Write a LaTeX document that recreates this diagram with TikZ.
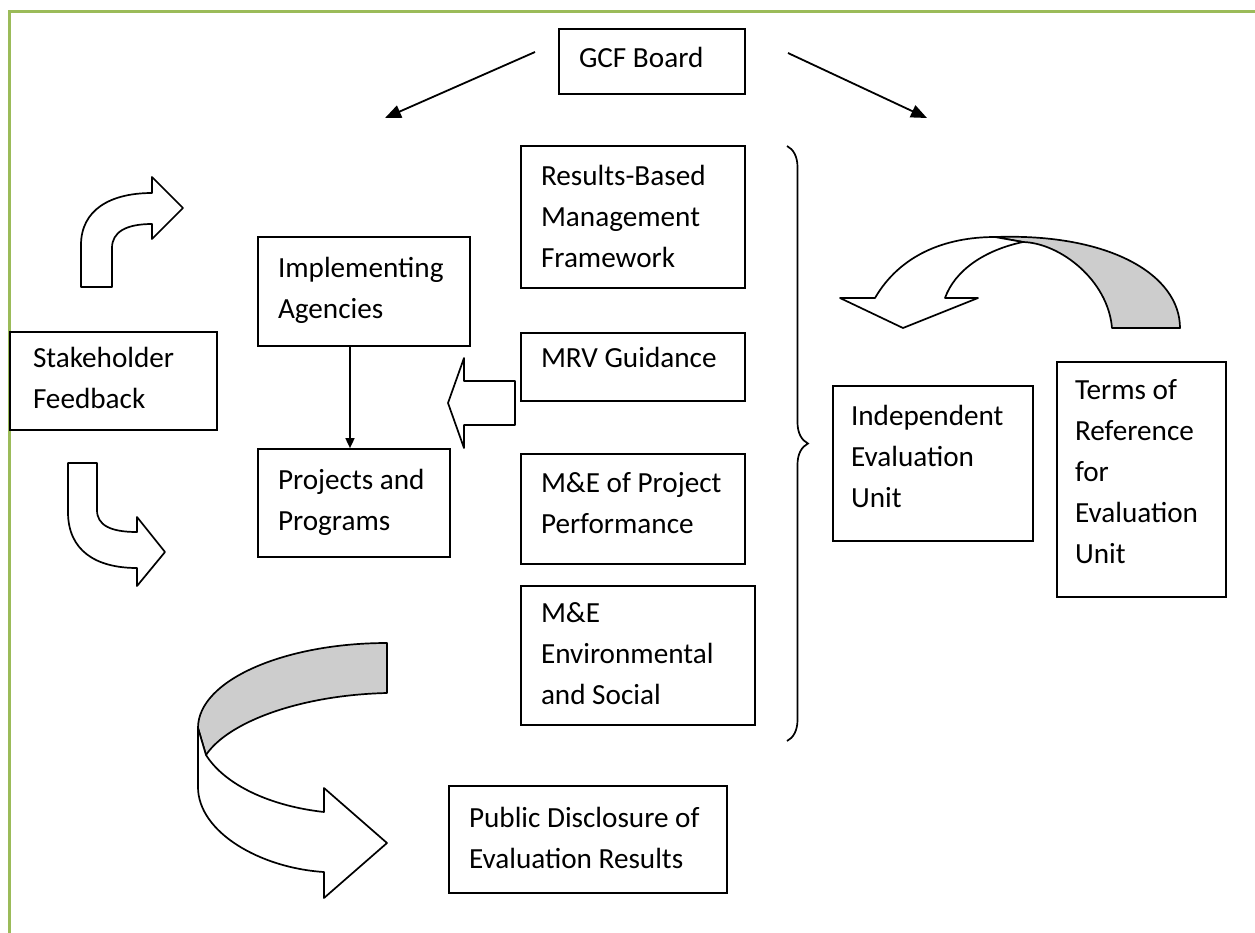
\documentclass[tikz,border=0pt]{standalone}
\usepackage{fontspec}
\setmainfont{Carlito}
\usetikzlibrary{arrows.meta,fit,decorations.pathreplacing}
\definecolor{frameline}{HTML}{9BBB59}
\definecolor{bandgray}{HTML}{CDCDCD}
\newcommand\boxtext[1]{\begin{tabular}[t]{@{}l@{}}#1\end{tabular}}
\begin{document}
\begin{tikzpicture}[x=0.5pt,y=-0.5pt,
  font=\fontsize{14.6pt}{20.5pt}\selectfont,
  box/.style={draw, line width=0.85pt, inner sep=0pt},
  txt/.style={anchor=base west, inner sep=0pt, outer sep=0pt},
  link/.style={line width=0.9pt, -{Triangle[length=8pt,width=6.5pt]}},
  shortlink/.style={line width=0.8pt, -{Triangle[length=5pt,width=4.5pt]}},
  blockarrow/.style={draw, line width=0.85pt, fill=white, line join=round},
  backband/.style={draw, line width=0.85pt, fill=bandgray, line join=round}]
\useasboundingbox (0,0) rectangle (1255,933);

% page frame
\draw[frameline, line width=1.2pt] (9.5,933) -- (9.5,11.5) -- (1255,11.5);

% boxes
\node[box, fit={(559,29) (745,94)}] (gcf) {};
\node[txt] (gcf-t) at (579,67) {GCF Board};

\node[box, fit={(521,146) (745,288)}] (rbm) {};
\node[txt] (rbm-t) at (541,185) {\boxtext{Results-Based\\Management\\Framework}};

\node[box, fit={(258,237) (470,346)}] (impl) {};
\node[txt] (impl-t) at (278,277) {\boxtext{Implementing\\Agencies}};

\node[box, fit={(10,332) (217,430)}] (stake) {};
\node[txt] (stake-t) at (33,367) {\boxtext{Stakeholder\\Feedback}};

\node[box, fit={(521,333) (745,401)}] (mrv) {};
\node[txt] (mrv-t) at (541,367) {MRV Guidance};

\node[box, fit={(258,449) (450,557)}] (proj) {};
\node[txt] (proj-t) at (278,489) {\boxtext{Projects and\\Programs}};

\node[box, fit={(521,454) (745,564)}] (mep) {};
\node[txt] (mep-t) at (541,492) {\boxtext{M\&E of Project\\Performance}};

\node[box, fit={(521,586) (755,725)}] (mee) {};
\node[txt] (mee-t) at (541,622) {\boxtext{M\&E\\Environmental\\and Social}};

\node[box, fit={(833,386) (1033,541)}] (ieu) {};
\node[txt] (ieu-t) at (851,425) {\boxtext{Independent\\Evaluation\\Unit}};

\node[box, fit={(1057,362) (1226,597)}] (tor) {};
\node[txt] (tor-t) at (1075,399) {\boxtext{Terms of\\Reference\\for\\Evaluation\\Unit}};

\node[box, fit={(449,786) (727,893)}] (pub) {};
\node[txt] (pub-t) at (469,827) {\boxtext{Public Disclosure of\\Evaluation Results}};

% arrows from the board
\coordinate (gl-s) at (535,52);
\coordinate (gl-e) at (385,118);
\coordinate (gr-s) at (788,53);
\coordinate (gr-e) at (927,118);
\draw[link] (gl-s) -- (gl-e);
\draw[link] (gr-s) -- (gr-e);

% agencies to projects
\draw[shortlink] ([xshift=-7pt]impl.south) -- ([xshift=-7pt]impl.south |- proj.north);

% brace grouping the guidance boxes
\draw[line width=0.85pt, decorate, decoration={brace, amplitude=10.5pt}] (787,146) -- (787,741);

% block arrow pointing from MRV guidance to projects
\draw[blockarrow] (515,381) -- (464,381) -- (464,358) -- (448,403) -- (464,448) -- (464,425) -- (515,425) -- cycle;

% bent arrow up and right
\draw[blockarrow] (81,287) -- (81,245) .. controls (81,210) and (110,193) .. (152,193)
  -- (152,177) -- (183,208) -- (152,239) -- (152,224)
  .. controls (126,224) and (112,232) .. (112,248) -- (112,287) -- cycle;

% bent arrow down and right
\draw[blockarrow] (68,463) -- (97,463) -- (97,510) .. controls (97,525) and (110,532) .. (137,532)
  -- (137,517) -- (165,552) -- (137,586) -- (137,568)
  .. controls (95,568) and (68,550) .. (68,512) -- cycle;

% curved arrow over the evaluation unit
\draw[backband] (995,237) .. controls (1110,233) and (1180,275) .. (1180,328) -- (1112,328)
  .. controls (1108,280) and (1060,243) .. (1023,242) -- (995,237) -- cycle;
\draw[blockarrow] (840,298) -- (875,298) .. controls (900,255) and (945,237) .. (995,237)
  -- (1023,242) .. controls (985,250) and (955,270) .. (945,298) -- (978,298) -- (903,328) -- cycle;

% curved arrow towards public disclosure
\draw[backband] (198,728) .. controls (198,680) and (285,643) .. (387,643) -- (387,693)
  .. controls (300,695) and (228,722) .. (206,755) -- cycle;
\draw[blockarrow] (198,728) -- (198,787) .. controls (198,832) and (260,868) .. (324,872)
  -- (324,898) -- (387,843) -- (324,788) -- (324,812)
  .. controls (270,806) and (225,785) .. (206,755) -- cycle;
\end{tikzpicture}
\end{document}
